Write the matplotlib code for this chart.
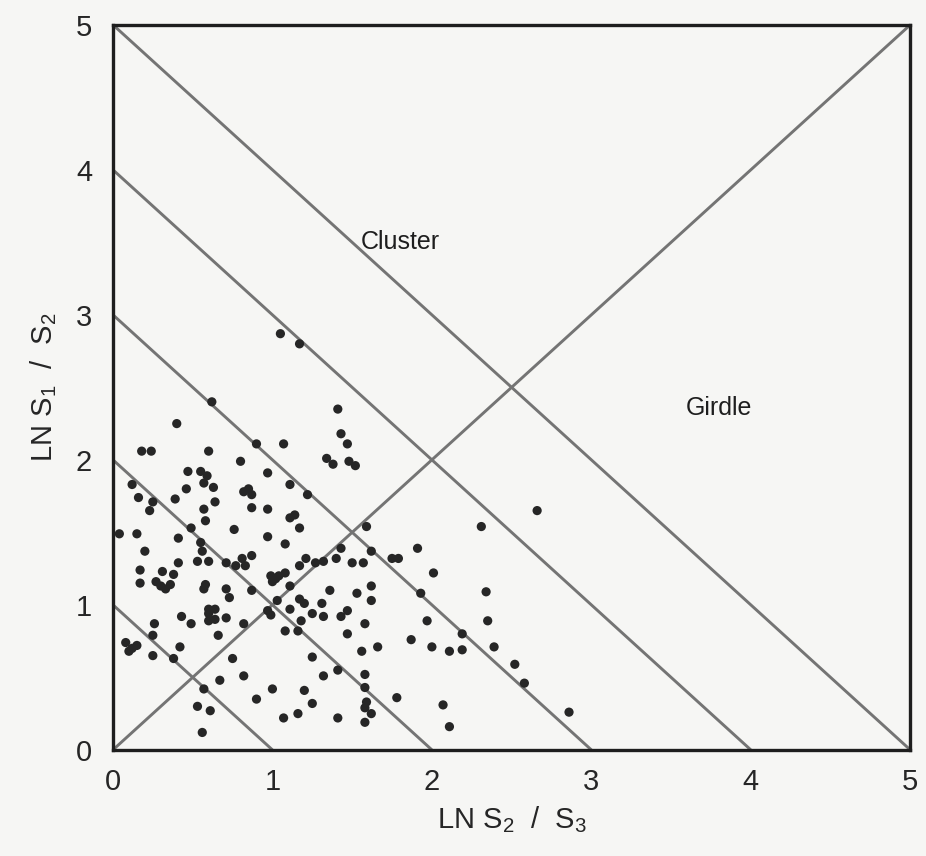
import matplotlib
matplotlib.use("Agg")
import matplotlib.pyplot as plt

plt.rcParams['font.family'] = ['Liberation Sans', 'DejaVu Sans']
plt.rcParams['mathtext.fontset'] = 'custom'
plt.rcParams['mathtext.rm'] = 'Liberation Sans'
plt.rcParams['mathtext.default'] = 'regular'

# LN S2/S3 (x) and LN S1/S2 (y) for each fabric sample
ln_s2_s3 = [0.62, 0.40, 0.90, 0.18, 0.24, 0.60, 0.80, 0.47, 0.55, 1.05,
            1.17, 1.41, 1.43, 1.47, 1.34, 1.38, 1.48, 1.52, 1.07, 0.97,
            0.59, 0.46, 0.57, 0.63, 0.12, 0.16, 0.25, 0.23, 0.39, 0.57,
            0.64, 0.85, 0.82, 0.87, 0.87, 0.58, 0.76, 0.49, 0.04, 0.15,
            0.41, 0.55, 0.56, 0.20, 0.41, 0.53, 0.60, 0.71, 0.77, 0.81,
            0.87, 0.83, 0.17, 0.31, 0.38, 0.17, 0.27, 0.30, 0.33, 0.36,
            0.58, 0.57, 0.71, 0.73, 0.87, 0.60, 0.64, 0.60, 0.64, 0.60,
            0.43, 0.49, 0.26, 0.71, 0.82, 0.25, 0.66, 0.08, 0.12, 0.15,
            0.10, 0.42, 0.25, 0.38, 0.75, 0.82, 0.67, 0.57, 0.90, 0.53,
            0.61, 0.56, 1.11, 1.22, 0.97, 1.11, 1.14, 1.17, 1.59, 0.97,
            1.08, 1.43, 1.21, 1.27, 1.32, 1.40, 1.17, 1.62, 1.75, 1.79,
            1.50, 1.57, 1.08, 0.99, 1.02, 1.00, 1.04, 1.11, 1.36, 1.62,
            1.53, 1.17, 1.20, 1.31, 1.62, 1.03, 0.97, 1.11, 1.47, 1.25,
            1.32, 1.43, 1.18, 1.58, 0.99, 1.08, 1.16, 1.47, 1.87, 1.66,
            1.56, 1.25, 1.41, 1.32, 1.58, 1.58, 1.00, 1.20, 1.78, 1.25,
            1.59, 1.58, 1.62, 1.16, 1.07, 1.41, 1.58, 2.66, 2.31, 1.91,
            2.01, 2.34, 1.93, 1.97, 2.35, 2.00, 2.11, 2.19, 2.19, 2.39,
            2.52, 2.58, 2.07, 2.11, 2.86]
ln_s1_s2 = [2.40, 2.25, 2.11, 2.06, 2.06, 2.06, 1.99, 1.92, 1.92, 2.87,
            2.80, 2.35, 2.18, 2.11, 2.01, 1.97, 1.99, 1.96, 2.11, 1.91,
            1.89, 1.80, 1.84, 1.81, 1.83, 1.74, 1.71, 1.65, 1.73, 1.66,
            1.71, 1.80, 1.78, 1.76, 1.67, 1.58, 1.52, 1.53, 1.49, 1.49,
            1.46, 1.43, 1.37, 1.37, 1.29, 1.30, 1.30, 1.29, 1.27, 1.32,
            1.34, 1.27, 1.24, 1.23, 1.21, 1.15, 1.16, 1.13, 1.11, 1.14,
            1.14, 1.11, 1.11, 1.05, 1.10, 0.97, 0.97, 0.94, 0.90, 0.89,
            0.92, 0.87, 0.87, 0.91, 0.87, 0.79, 0.79, 0.74, 0.70, 0.72,
            0.68, 0.71, 0.65, 0.63, 0.63, 0.51, 0.48, 0.42, 0.35, 0.30,
            0.27, 0.12, 1.83, 1.76, 1.66, 1.60, 1.62, 1.53, 1.54, 1.47,
            1.42, 1.39, 1.32, 1.29, 1.30, 1.32, 1.27, 1.37, 1.32, 1.32,
            1.29, 1.29, 1.22, 1.20, 1.18, 1.16, 1.20, 1.13, 1.10, 1.13,
            1.08, 1.04, 1.01, 1.01, 1.03, 1.03, 0.96, 0.97, 0.96, 0.94,
            0.92, 0.92, 0.89, 0.87, 0.93, 0.82, 0.82, 0.80, 0.76, 0.71,
            0.68, 0.64, 0.55, 0.51, 0.52, 0.43, 0.42, 0.41, 0.36, 0.32,
            0.33, 0.29, 0.25, 0.25, 0.22, 0.22, 0.19, 1.65, 1.54, 1.39,
            1.22, 1.09, 1.08, 0.89, 0.89, 0.71, 0.68, 0.80, 0.69, 0.71,
            0.59, 0.46, 0.31, 0.16, 0.26]

# reference lines: x + y = k and the x = y diagonal
sum_levels = [1, 2, 3, 4, 5]
axis_max = 5

fig = plt.figure(figsize=(9.26, 8.56), dpi=100, facecolor='#f6f6f4')
ax = fig.add_axes([0.122, 0.124, 0.861, 0.847])
ax.set_facecolor('#f6f6f4')

line_kw = dict(color='#747474', lw=2.1, solid_capstyle='butt', zorder=1)
for k in sum_levels:
    ax.plot([0, k], [k, 0], **line_kw)
ax.plot([0, axis_max], [0, axis_max], **line_kw)

ax.scatter(ln_s2_s3, ln_s1_s2, s=44, color='#262626', edgecolors='none', zorder=3)

ax.text(1.80, 3.50, 'Cluster', fontsize=18, ha='center', va='center', color='#1e1e1e')
ax.text(3.80, 2.36, 'Girdle', fontsize=18, ha='center', va='center', color='#1e1e1e')

ax.set_xlim(0, axis_max)
ax.set_ylim(0, axis_max)
ax.set_xticks(range(0, axis_max + 1))
ax.set_yticks(range(0, axis_max + 1))
ax.tick_params(length=0, labelsize=21, colors='#262626')
ax.tick_params(axis='x', pad=13)
ax.tick_params(axis='y', pad=15)

for s in ax.spines.values():
    s.set_linewidth(2.4)
    s.set_color('#1e1e1e')

ax.set_xlabel(r'LN S$_2$  /  S$_3$', fontsize=21, color='#262626', labelpad=6)
ax.set_ylabel(r'LN S$_1$  /  S$_2$', fontsize=21, color='#262626', labelpad=12)

fig.savefig('out.png', dpi=100, facecolor=fig.get_facecolor())
